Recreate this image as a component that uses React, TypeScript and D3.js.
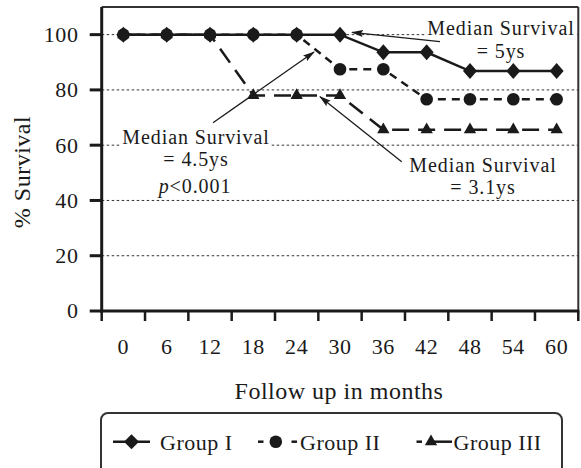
import React from "react";
import * as d3 from "d3";

const months = ["0", "6", "12", "18", "24", "30", "36", "42", "48", "54", "60"];
const groupI = [100, 100, 100, 100, 100, 100, 93.6, 93.6, 86.8, 86.8, 86.8];
const groupII = [100, 100, 100, 100, 100, 87.5, 87.5, 76.6, 76.6, 76.6, 76.6];
const groupIII = [100, 100, 100, 78, 78, 78, 65.6, 65.6, 65.6, 65.6, 65.6];
const yTicks = [0, 20, 40, 60, 80, 100];
const gridTicks = [20, 40, 60, 80, 100];
const seriesNames = ["Group I", "Group II", "Group III"];

const W = 581;
const H = 468;
const FONT = "'Liberation Serif', 'Times New Roman', serif";
const INK = "#1a1a1a";

export default function App() {
  const left = 101.7;
  const right = 578.3;
  const top = 7;
  const bottom = 311;

  const x = d3.scaleBand<string>().domain(months).range([left, right]).padding(0);
  const y = d3.scaleLinear().domain([0, 110]).range([bottom, top]);
  const cx = (m: string) => (x(m) as number) + x.bandwidth() / 2;

  const line = d3
    .line<number>()
    .x((_, i) => cx(months[i]))
    .y((v) => y(v));

  const diamond = (px: number, py: number, hw = 7, hh = 8) =>
    `M${px},${py - hh}L${px + hw},${py}L${px},${py + hh}L${px - hw},${py}Z`;
  const triangle = d3.symbol(d3.symbolTriangle, 66);

  const boundaries = d3.range(months.length + 1).map((i) => left + i * x.bandwidth());

  return (
    <svg
      width={W}
      height={H}
      style={{ position: "absolute", left: 0, top: 0, background: "#fff" }}
      fontFamily={FONT}
    >
      <defs>
        <marker
          id="arr"
          viewBox="0 0 12 8"
          refX="11"
          refY="4"
          markerWidth="12"
          markerHeight="8"
          markerUnits="userSpaceOnUse"
          orient="auto"
        >
          <path d="M0,0.5 L12,4 L0,7.5 L2,4 Z" fill={INK} />
        </marker>
      </defs>

      {/* gridlines */}
      {gridTicks.map((t) => (
        <line
          key={"g" + t}
          x1={left}
          x2={right}
          y1={y(t)}
          y2={y(t)}
          stroke="#333"
          strokeWidth={1}
          strokeDasharray="2.5,2.5"
        />
      ))}

      {/* annotation backgrounds */}
      <rect x={425} y={17} width={152} height={44} fill="#fff" />
      <rect x={121} y={127} width={150} height={44} fill="#fff" />

      {/* frame */}
      <line x1={left} x2={right} y1={top} y2={top} stroke="#333" strokeWidth={2} />
      <line x1={right} x2={right} y1={top} y2={bottom} stroke="#333" strokeWidth={2} />
      <line x1={left} x2={left} y1={top} y2={bottom + 1.5} stroke={INK} strokeWidth={3} />
      <line x1={left - 1.5} x2={right + 1} y1={bottom} y2={bottom} stroke={INK} strokeWidth={3} />

      {/* y ticks */}
      {yTicks.map((t) => (
        <g key={"yt" + t}>
          <line x1={left - 12} x2={left} y1={y(t)} y2={y(t)} stroke={INK} strokeWidth={3} />
          <text
            x={78.5}
            y={y(t)}
            dy="0.34em"
            textAnchor="end"
            fontSize={22}
            letterSpacing={0.6}
            fill={INK}
          >
            {t}
          </text>
        </g>
      ))}

      {/* x ticks */}
      {boundaries.map((b, i) => (
        <line key={"xt" + i} x1={b} x2={b} y1={bottom} y2={bottom + 10} stroke={INK} strokeWidth={2.5} />
      ))}
      {months.map((m) => (
        <text key={"xl" + m} x={cx(m)} y={354} textAnchor="middle" fontSize={22} letterSpacing={0.6} fill={INK}>
          {m}
        </text>
      ))}

      {/* axis titles */}
      <text x={339} y={399} textAnchor="middle" fontSize={24} letterSpacing={0.5} fill={INK}>
        Follow up in months
      </text>
      <text
        transform={`translate(30,${172}) rotate(-90)`}
        textAnchor="middle"
        fontSize={24}
        letterSpacing={0.5}
        fill={INK}
      >
        % Survival
      </text>

      {/* series */}
      <path d={line(groupIII) as string} fill="none" stroke={INK} strokeWidth={2.5} strokeDasharray="17,9" />
      <path d={line(groupII) as string} fill="none" stroke={INK} strokeWidth={2.5} strokeDasharray="8,6" />
      <path d={line(groupI) as string} fill="none" stroke={INK} strokeWidth={2.5} />

      {groupIII.map((v, i) => (
        <path key={"t" + i} d={triangle() as string} transform={`translate(${cx(months[i])},${y(v)})`} fill={INK} />
      ))}
      {groupII.map((v, i) => (
        <circle key={"c" + i} cx={cx(months[i])} cy={y(v)} r={6.3} fill={INK} />
      ))}
      {groupI.map((v, i) => (
        <path key={"d" + i} d={diamond(cx(months[i]), y(v))} fill={INK} />
      ))}

      {/* annotations */}
      <line x1={440} y1={41.7} x2={352} y2={32.3} stroke={INK} strokeWidth={1.3} markerEnd="url(#arr)" />
      <line x1={213} y1={122.7} x2={314} y2={52} stroke={INK} strokeWidth={1.3} markerEnd="url(#arr)" />
      <line x1={401.7} y1={161.7} x2={320} y2={96.7} stroke={INK} strokeWidth={1.3} markerEnd="url(#arr)" />

      <g fontSize={20} letterSpacing={0.9} fill={INK} textAnchor="middle">
        <text x={501} y={35}>Median Survival</text>
        <text x={501} y={57.5}>= 5ys</text>
        <text x={196} y={143.5}>Median Survival</text>
        <text x={196} y={166}>= 4.5ys</text>
        <text x={195} y={193.3}>
          <tspan fontStyle="italic">p</tspan>&lt;0.001
        </text>
        <text x={483} y={171.5}>Median Survival</text>
        <text x={483} y={194}>= 3.1ys</text>
      </g>

      {/* legend */}
      <rect x={101} y={413} width={461} height={70} rx={7} fill="#fff" stroke="#333" strokeWidth={2} />
      <g>
        <line x1={113} x2={150} y1={441.7} y2={441.7} stroke={INK} strokeWidth={2.5} />
        <path d={diamond(131.5, 441.7, 7.5, 7.5)} fill={INK} />
        <text x={160} y={450} fontSize={22} letterSpacing={0.5} fill={INK}>{seriesNames[0]}</text>

        <line x1={258} x2={263.5} y1={441.7} y2={441.7} stroke={INK} strokeWidth={2.5} />
        <line x1={291.5} x2={297} y1={441.7} y2={441.7} stroke={INK} strokeWidth={2.5} />
        <circle cx={275.8} cy={441.7} r={6.3} fill={INK} />
        <text x={300} y={450} fontSize={22} letterSpacing={0.5} fill={INK}>{seriesNames[1]}</text>

        <line x1={416.5} x2={422} y1={441.7} y2={441.7} stroke={INK} strokeWidth={2.5} />
        <line x1={430} x2={452} y1={441.7} y2={441.7} stroke={INK} strokeWidth={2.5} />
        <path d={triangle() as string} transform={`translate(431,${441.7})`} fill={INK} />
        <text x={453.5} y={450} fontSize={22} letterSpacing={0.5} fill={INK}>{seriesNames[2]}</text>
      </g>
    </svg>
  );
}
